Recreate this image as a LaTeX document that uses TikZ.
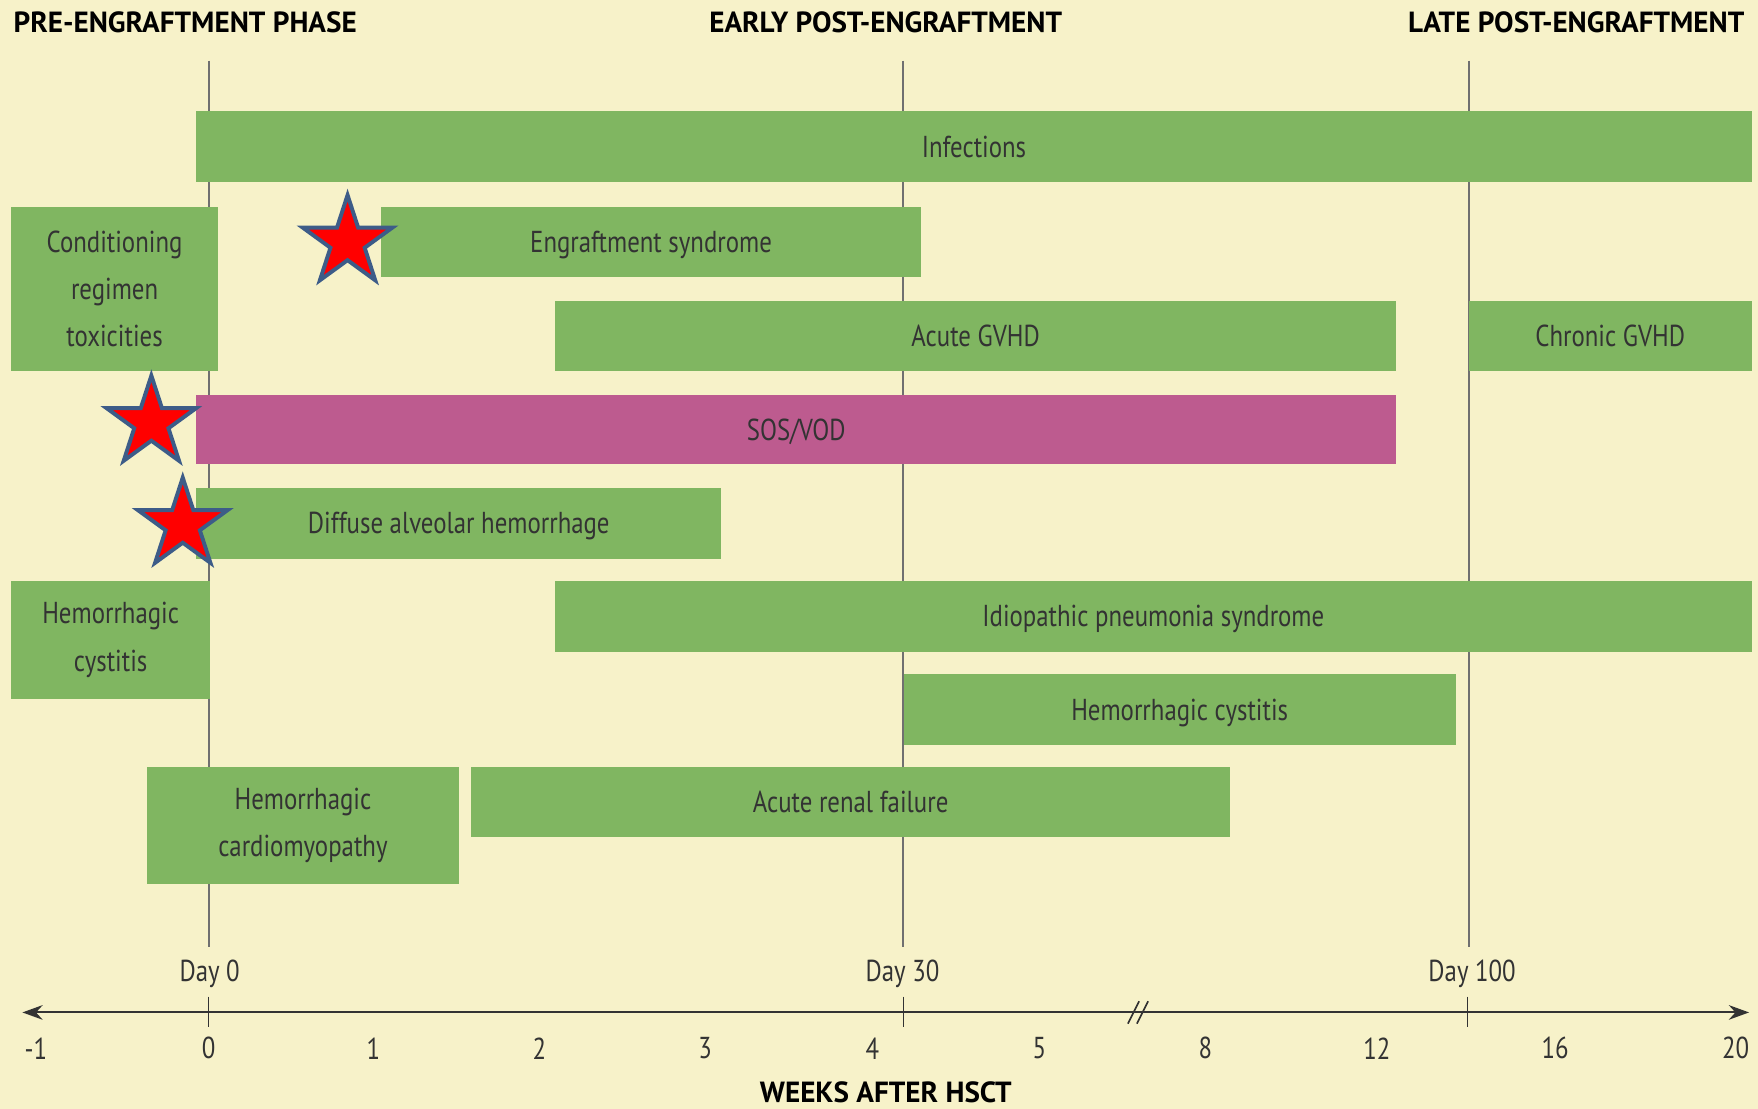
\documentclass[tikz,border=0pt]{standalone}
\usepackage{fontspec}
\setmainfont[FakeStretch=0.82]{PT Sans}
\newfontfamily\headfont{PT Sans}
\usetikzlibrary{shapes.geometric,arrows.meta}

\definecolor{cream}{HTML}{F7F2C9}
\definecolor{grn}{HTML}{80B661}
\definecolor{sos}{HTML}{BD5B8F}
\definecolor{starred}{HTML}{FF0000}
\definecolor{starblue}{HTML}{3D5C88}
\definecolor{ink}{HTML}{333333}
\definecolor{rule}{HTML}{707070}

\begin{document}
\begin{tikzpicture}[x=1pt,y=-1pt,inner sep=0pt]
\tikzstyle{bar}=[fill=grn,anchor=north west,text=ink,align=center,font=\fontsize{27}{42}\selectfont]
\tikzstyle{oneline}=[text height=19pt,text depth=0pt]
\tikzstyle{pinkbar}=[bar,fill=sos]
\tikzstyle{hdr}=[text=black,font=\headfont\fontsize{26}{30}\selectfont\bfseries]
\tikzstyle{lbl}=[text=ink,font=\fontsize{27}{32}\selectfont]
\tikzstyle{redstar}=[star,star points=5,star point ratio=2.618,minimum size=84pt,fill=starred,draw=starblue,line width=3.5pt]
\tikzstyle{phase}=[draw=rule,line width=1.8pt]

% background and page size
\fill[cream] (0,0) rectangle (1568,989);
\useasboundingbox (0,0) rectangle (1568,989);

% phase headings
\node[hdr,anchor=west] (pre) at (12,20) {PRE-ENGRAFTMENT PHASE};
\node[hdr] (early) at (790,20) {EARLY POST-ENGRAFTMENT};
\node[hdr,anchor=east] (late) at (1556,20) {LATE POST-ENGRAFTMENT};

% day lines (behind the bars)
\coordinate (d0top) at (186,54);   \coordinate (d0bot) at (186,845);
\coordinate (d30top) at (805,54);  \coordinate (d30bot) at (805,845);
\coordinate (d100top) at (1310,54);\coordinate (d100bot) at (1310,845);
\draw[phase] (d0top) -- (d0bot);
\draw[phase] (d30top) -- (d30bot);
\draw[phase] (d100top) -- (d100bot);

% complications
\node[bar,oneline,minimum width=1387pt,minimum height=63pt] (infect) at (175,99) {Infections};
\node[bar,minimum width=184pt,minimum height=147pt] (cond) at (10,184) {Conditioning\\regimen\\toxicities};
\node[bar,oneline,minimum width=481pt,minimum height=63pt] (engr) at (340,184) {Engraftment syndrome};
\node[bar,oneline,minimum width=750pt,minimum height=63pt] (agvhd) at (495,268) {Acute GVHD};
\node[bar,oneline,minimum width=252pt,minimum height=63pt] (cgvhd) at (1310,268) {Chronic GVHD};
\node[pinkbar,oneline,minimum width=1070pt,minimum height=62pt] (sosvod) at (175,352) {SOS/VOD};
\node[bar,oneline,minimum width=468pt,minimum height=63pt] (dah) at (175,435) {Diffuse alveolar hemorrhage};
\node[bar,minimum width=177pt,minimum height=105pt] (hcpre) at (10,518) {Hemorrhagic\\cystitis};
\node[bar,oneline,minimum width=1067pt,minimum height=63pt] (ips) at (495,518) {Idiopathic pneumonia syndrome};
\node[bar,oneline,minimum width=492pt,minimum height=63pt] (hcpost) at (806,601) {Hemorrhagic cystitis};
\node[bar,minimum width=278pt,minimum height=104pt] (hcm) at (131,684) {Hemorrhagic\\cardiomyopathy};
\node[bar,oneline,minimum width=677pt,minimum height=62pt] (arf) at (420,684) {Acute renal failure};

% stars
\node[redstar] (starA) at (310,216) {};
\node[redstar] (starB) at (135,377) {};
\node[redstar] (starC) at (163,468) {};

% time axis
\coordinate (axL) at (20,903);
\coordinate (axR) at (1560,903);
\draw[ink,line width=1.8pt,{Stealth[length=18pt,width=13pt]}-{Stealth[length=18pt,width=13pt]}] (axL) -- (axR);
\foreach \x in {186,806,1309}
  \draw[ink,line width=1.2pt] (\x,889) -- (\x,916);
\draw[ink,line width=1.5pt] (1006,913) -- (1016,893) (1014,913) -- (1024,893);

\node[lbl] (day0) at (187,869) {Day 0};
\node[lbl] (day30) at (805,869) {Day 30};
\node[lbl] (day100) at (1313,869) {Day 100};

\foreach \x/\n in {32/-1,186/0,333/1,481/2,629/3,778/4,927/5,1075/8,1228/12,1387/16,1548/20}
  \node[lbl] at (\x,935) {\n};

\node[hdr,text height=18pt,text depth=0pt] (weeks) at (790,974) {WEEKS AFTER HSCT};
\end{tikzpicture}
\end{document}
